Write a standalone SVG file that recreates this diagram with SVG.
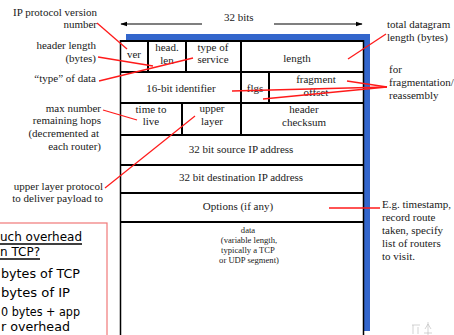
<svg xmlns="http://www.w3.org/2000/svg" width="454" height="335" viewBox="0 0 454 335">
  <defs>
    <marker id="arrowhead" viewBox="0 0 10 10" refX="9" refY="5" markerWidth="7" markerHeight="7" orient="auto" markerUnits="userSpaceOnUse">
      <path d="M0,1.5 L10,5 L0,8.5 z" fill="#000"/>
    </marker>
  </defs>
  <style>
    text { font-family: "Liberation Serif", "Times New Roman", serif; font-size: 11px; fill: #1a1a1a; }
    .field { text-anchor: middle; }
    .lbl-r { text-anchor: end; }
    .rule { stroke: #000; stroke-width: 2; fill: none; }
    .edge { stroke: #000; stroke-width: 1.5; fill: none; }
    .band { fill: #3366cc; }
    .callout { stroke: #ff1a1a; stroke-width: 1.3; fill: none; }
    .small { font-size: 8.6px; text-anchor: middle; }
    .note text { font-family: "DejaVu Sans", "Noto Sans", sans-serif; font-size: 12.5px; fill: #000; text-anchor: end; }
    .note line { stroke: #000; stroke-width: 1.4; }
  </style>

  <rect width="454" height="335" fill="#fff"/>

  <!-- bit-width ruler -->
  <g id="bit-width">
    <text x="224" y="21">32 bits</text>
    <line x1="202" y1="24" x2="121" y2="24" stroke="#000" stroke-width="1.2" marker-end="url(#arrowhead)"/>
    <line x1="274" y1="24" x2="362" y2="24" stroke="#000" stroke-width="1.2" marker-end="url(#arrowhead)"/>
  </g>

  <!-- header frame: shadow band, outline and row/column rules -->
  <g id="frame">
    <rect class="band" x="126" y="34" width="244" height="6"/>
    <rect class="band" x="364" y="34" width="6" height="297"/>
    <line class="edge" x1="120.5" y1="40" x2="120.5" y2="335"/>
    <line class="edge" x1="363.5" y1="40" x2="363.5" y2="335" stroke="#333"/>
    <line class="rule" x1="120" y1="41" x2="364" y2="41"/>
    <line class="rule" x1="120" y1="72" x2="364" y2="72"/>
    <line class="rule" x1="120" y1="103" x2="364" y2="103"/>
    <line class="rule" x1="120" y1="135" x2="364" y2="135"/>
    <line class="rule" x1="120" y1="165" x2="364" y2="165"/>
    <line class="rule" x1="120" y1="193" x2="364" y2="193"/>
    <line class="rule" x1="120" y1="222" x2="364" y2="222"/>
    <line class="rule" x1="148" y1="40" x2="148" y2="72"/>
    <line class="rule" x1="186" y1="40" x2="186" y2="72"/>
    <line class="rule" x1="241" y1="40" x2="241" y2="135"/>
    <line class="rule" x1="269" y1="72" x2="269" y2="103"/>
    <line class="rule" x1="182" y1="103" x2="182" y2="135"/>
  </g>

  <!-- header fields -->
  <g id="ver"><text class="field" x="134" y="58">ver</text></g>
  <g id="head-len"><text class="field" x="167" y="51">head.</text><text class="field" x="167" y="64">len</text></g>
  <g id="type-of-service"><text class="field" x="213" y="51">type of</text><text class="field" x="213" y="63">service</text></g>
  <g id="length"><text class="field" x="297" y="62">length</text></g>
  <g id="identifier"><text class="field" x="181" y="92">16-bit identifier</text></g>
  <g id="flags"><text class="field" x="255" y="92">flgs</text></g>
  <g id="fragment-offset"><text class="field" x="316" y="83">fragment</text><text class="field" x="316" y="96">offset</text></g>
  <g id="time-to-live"><text class="field" x="151" y="113">time to</text><text class="field" x="151" y="125">live</text></g>
  <g id="upper-layer"><text class="field" x="212" y="112">upper</text><text class="field" x="212" y="125">layer</text></g>
  <g id="header-checksum"><text class="field" x="304" y="113">header</text><text class="field" x="304" y="126">checksum</text></g>
  <g id="source-address"><text class="field" x="241" y="153">32 bit source IP address</text></g>
  <g id="destination-address"><text class="field" x="241" y="181">32 bit destination IP address</text></g>
  <g id="options"><text class="field" x="238" y="210">Options (if any)</text></g>
  <g id="data">
    <text class="small" x="248" y="233">data</text>
    <text class="small" x="249" y="243">(variable length,</text>
    <text class="small" x="248" y="253">typically a TCP</text>
    <text class="small" x="249" y="263">or UDP segment)</text>
  </g>

  <!-- annotations, left side -->
  <g id="note-version"><text class="lbl-r" x="97" y="16">IP protocol version</text><text class="lbl-r" x="97" y="28">number</text></g>
  <g id="note-header-length"><text class="lbl-r" x="96" y="49">header length</text><text class="lbl-r" x="96" y="62">(bytes)</text></g>
  <g id="note-type"><text class="lbl-r" x="96" y="82">“type” of data</text></g>
  <g id="note-ttl">
    <text class="lbl-r" x="101" y="112">max number</text>
    <text class="lbl-r" x="101" y="124">remaining hops</text>
    <text class="lbl-r" x="99" y="137">(decremented at</text>
    <text class="lbl-r" x="101" y="150">each router)</text>
  </g>
  <g id="note-protocol"><text class="lbl-r" x="103" y="190">upper layer protocol</text><text class="lbl-r" x="103" y="202">to deliver payload to</text></g>

  <!-- annotations, right side -->
  <g id="note-total-length"><text x="387" y="28">total datagram</text><text x="387" y="41">length (bytes)</text></g>
  <g id="note-fragmentation"><text x="389" y="73">for</text><text x="389" y="86">fragmentation/</text><text x="389" y="99">reassembly</text></g>
  <g id="note-options">
    <text x="382" y="208">E.g. timestamp,</text>
    <text x="382" y="221">record route</text>
    <text x="382" y="234">taken, specify</text>
    <text x="382" y="247">list of routers</text>
    <text x="382" y="260">to visit.</text>
  </g>

  <!-- callout connectors -->
  <g id="connectors">
    <line class="callout" x1="97" y1="23" x2="127" y2="49"/>
    <line class="callout" x1="98" y1="57" x2="153" y2="66"/>
    <line class="callout" x1="99" y1="81" x2="193" y2="58"/>
    <line class="callout" x1="103" y1="110" x2="137" y2="120"/>
    <line class="callout" x1="105" y1="188" x2="195" y2="116"/>
    <line class="callout" x1="386" y1="34" x2="348" y2="59"/>
    <line class="callout" x1="387" y1="87" x2="347" y2="81"/>
    <line class="callout" x1="387" y1="87" x2="232" y2="91"/>
    <line class="callout" x1="387" y1="87" x2="263" y2="99"/>
    <line class="callout" x1="329" y1="208" x2="380" y2="208"/>
  </g>

  <!-- overhead question box -->
  <g id="overhead-note" class="note">
    <rect x="-10" y="223" width="117" height="130" fill="none" stroke="#f07878" stroke-width="1.2"/>
    <text x="82" y="241" textLength="82" lengthAdjust="spacingAndGlyphs">uch overhead</text>
    <line x1="0" y1="244" x2="82" y2="244"/>
    <text x="40" y="256" textLength="40" lengthAdjust="spacingAndGlyphs">n TCP?</text>
    <line x1="0" y1="259" x2="40" y2="259"/>
    <text x="80" y="278" textLength="79" lengthAdjust="spacingAndGlyphs">bytes of TCP</text>
    <text x="70" y="297" textLength="69" lengthAdjust="spacingAndGlyphs">bytes of IP</text>
    <text x="80" y="316" textLength="79" lengthAdjust="spacingAndGlyphs">0 bytes + app</text>
    <text x="70" y="331" textLength="69" lengthAdjust="spacingAndGlyphs">r overhead</text>
  </g>

  <!-- faint clip-art mark -->
  <g id="mark" stroke="#bbb" stroke-width="0.8" fill="none" opacity="0.8">
    <path d="M412 325 h8 M413 325 v9 M418 327 v7 M428 322 v13 M425 329 l3 -5 l3 5 M424 333 h8"/>
  </g>
</svg>
